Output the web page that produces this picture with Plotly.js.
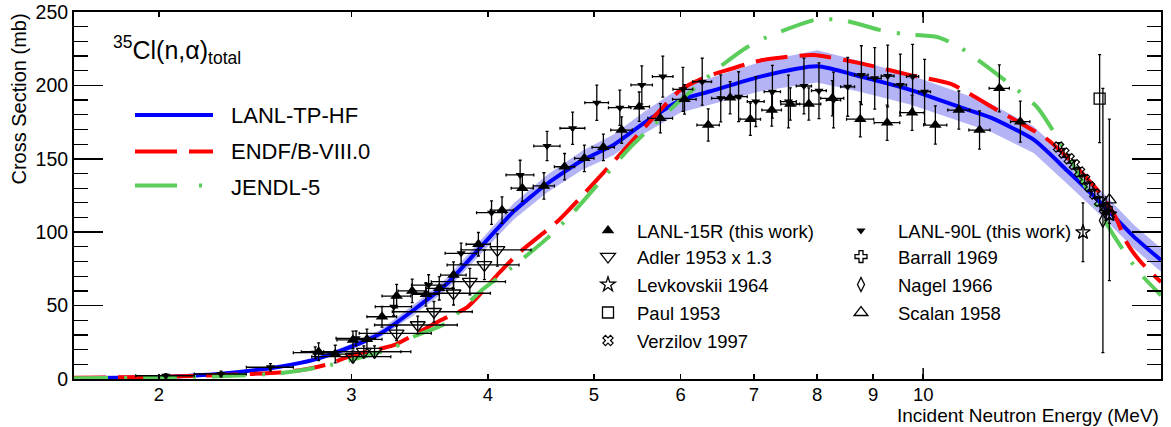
<!DOCTYPE html>
<html>
<head>
<meta charset="utf-8">
<script src="https://cdn.plot.ly/plotly-3.0.1.min.js"></script>
<style>html,body{margin:0;padding:0;background:#fff;}#chart{width:1171px;height:427px;}</style>
</head>
<body>
<div id="chart"></div>
<script>
// ---------- Evaluations ----------
const modelE      = [1.673,2.0,2.28,2.58,2.77,3.0,3.19,3.42,3.67,3.94,4.22,4.53,4.88,5.21,5.57,6.0,6.39,7.1,8.0,8.77,9.73,10.82,11.53,12.62,13.54,14.53,15.58,16.5];
const lanlTPHF    = [0.5,1.3,3.5,8.4,13,22,31,47,65,90,114,133,149,159.5,175,190,196,206,213,206,197,185,178,163,142,120,97,81];
const lanlUpper   = [0.6,1.5,3.9,9.2,14.2,24,33.5,50.5,69,95,119.5,139,155.5,166.5,182.5,198.5,205,216,224,216.5,207,194.5,187.5,172,151,128.5,105,89];
const lanlLower   = [0.4,1.1,3.1,7.6,11.8,20,28.5,43.5,61,85,108.5,127,142.5,152.5,167.5,181.5,187,196,202,195.5,187,175.5,168.5,154,133,111.5,89,73];

const endfE = [1.673,2.0,2.3,2.58,2.72,2.87,3.0,3.28,3.42,3.62,3.83,4.08,4.27,4.64,5.03,5.5,6.0,6.34,6.52,7.1,7.94,8.77,9.73,10.6,11.7,12.95,13.54,14.53,15.0,15.35,15.8,16.5];
const endfY = [0.8,1.5,2.8,4.5,6.5,10.5,16,23,30,40,49,71,86,108,135.6,167.4,197,206,209,217,220.7,215,207,201,183,164,151,126,110,93,80,66];

const jendlE = [1.673,2.0,2.3,2.58,2.87,3.27,3.42,3.66,3.94,4.19,4.53,4.78,5.4,6.0,6.1,6.52,6.9,7.2,8.0,8.5,9.1,9.6,10.3,10.8,12.0,12.7,13.3,14.9,15.7,16.5];
const jendlY = [0.5,1,2,3.9,9.5,21,28.8,38,60,75,95.8,113,158,190,194.6,212.7,226,233,245,244,238,235,233,226,201,185.5,163,99,74,57];

// ---------- Measurements ----------
const r15E  = [2.80,2.90,3.01,3.10,3.20,3.30,3.41,3.51,3.61,3.72,3.92,4.12,4.30,4.50,4.70,4.90,5.10,5.30,5.50,5.75,6.05,6.36,6.66,6.95,7.27,7.56,7.86,8.26,8.76,9.27,9.77,10.26,10.78,11.26,11.74,12.27];
const r15Y  = [18.6,17,26.6,27,42.4,56.5,60,57.7,61.8,70.8,91.8,115,130,131.5,144.6,150.3,157.8,169.6,185.5,177.6,190.5,173,191.6,177,183.2,187.3,187.3,191.2,177,174.6,181.4,173,183.2,169.6,198,175.3];
const r15dE = [0.1,0.1,0.1,0.1,0.1,0.1,0.1,0.1,0.1,0.1,0.1,0.1,0.1,0.1,0.1,0.1,0.12,0.12,0.12,0.15,0.15,0.15,0.15,0.15,0.15,0.15,0.2,0.2,0.25,0.25,0.25,0.25,0.25,0.25,0.25,0.25];
const r15dY = [6,6,6,7,7,8,8,8,8,9,8,9,9,9,9,9,9,9,10,10,10,11,11,11,11,11,11,12,12,12,12,13,13,13,16,14];

const l90E  = [2.03,2.28,2.53,2.78,3.03,3.28,3.53,3.78,4.03,4.28,4.53,4.78,5.03,5.28,5.53,5.78,6.03,6.28,6.53,6.78,7.03,7.28,7.53,7.78,8.03,8.28,8.53,8.78,9.03,9.28,9.53,9.78,10.03];
const l90Y  = [2.2,3.4,8,17.9,27.7,49.3,64,85.6,113.3,139,158.7,170.8,188.2,184.8,200.3,206,197.3,202.5,191.2,192.3,189,195.7,189,199.6,196.4,190,199,207,204.8,206.4,200.3,206,195.7];
const l90dE = [0.125,0.125,0.125,0.125,0.125,0.125,0.125,0.125,0.125,0.125,0.125,0.125,0.125,0.125,0.125,0.125,0.125,0.125,0.125,0.125,0.125,0.125,0.125,0.125,0.125,0.125,0.125,0.125,0.125,0.125,0.125,0.125,0.125];
const l90dY = [1.5,2,2.5,4,5,6,7,7,8,10,10,11,12,12,13,14,15,16,16,17,17,18,18,19,19,19,20,20,21,21,21,22,22];

const adlerE  = [3.01,3.08,3.15,3.30,3.45,3.57,3.72,3.85,3.97,4.08];
const adlerY  = [15.2,18.6,18.6,31.1,36.8,45.8,58.4,66.3,77.7,87.9];
const adlerdE = [0.25,0.25,0.25,0.25,0.3,0.3,0.3,0.3,0.3,0.3];
const adlerdY = [4,4,4,5,6,7,8,9,10,11];

const levkE = [14.0, 14.8]; const levkY = [100, 112]; const levkdY = [20, 6];
const paulE = [14.5]; const paulY = [191]; const pauldY = [30];
const verzE = [13.3,13.45,13.6,13.75,13.9,14.05,14.2,14.35,14.5,14.65,14.8];
const verzY = [158,154,150,146,141,136,131,126,121,116,112];
const verzdY = [3,3,3,3,3,3,3,3,3,3,3];
const barrE = [14.7]; const barrY = [116]; const barrdY = [8];
const nagelE = [14.6]; const nagelY = [108]; const nageldY = [90];
const scalE = [14.8]; const scalY = [122]; const scaldY = [55];

const xTickVals = [2,3,4,5,6,7,8,9,10];
const xTickText = ['2','3','4','5','6','7','8','9','10'];

// ---------- geometry helpers (plot area in pixels) ----------
const W = 1171, H = 427, L = 74, R = 1161, T = 12, B = 379;
const px = v => (v - L) / (R - L);
const py = v => (B - v) / (B - T);

const FONT = '"Liberation Sans", Arial, Helvetica, sans-serif';

const eb = (arr) => ({type:'data', array:arr, visible:true, color:'#000', thickness:1.3, width:1.5});

const traces = [
  {x: modelE.concat(modelE.slice().reverse()), y: lanlUpper.concat(lanlLower.slice().reverse()),
   type:'scatter', mode:'lines', fill:'toself', fillcolor:'rgba(110,110,235,0.52)', line:{width:0}, hoverinfo:'skip', showlegend:false},
  {x: modelE, y: lanlTPHF, type:'scatter', mode:'lines', line:{color:'#0000ff', width:4, shape:'spline', smoothing:0.6}, showlegend:false},
  {x: endfE, y: endfY, type:'scatter', mode:'lines', line:{color:'#ff0000', width:4, dash:'32px,12px', shape:'spline', smoothing:0.6}, showlegend:false},
  {x: jendlE, y: jendlY, type:'scatter', mode:'lines', line:{color:'#5acd5a', width:4, dash:'34px,16px,3px,16px', shape:'spline', smoothing:0.6}, showlegend:false},

  {x: adlerE, y: adlerY, name:'Adler 1953 x 1.3', legend:'legend3', type:'scatter', mode:'markers',
   marker:{symbol:'triangle-down-open', size:13, color:'#000', line:{width:1.3}}, error_x:eb(adlerdE), error_y:eb(adlerdY)},
  {x: l90E, y: l90Y, name:'LANL-90L (this work)', legend:'legend2', type:'scatter', mode:'markers',
   marker:{symbol:'triangle-down', size:8, color:'#000'}, error_x:eb(l90dE), error_y:eb(l90dY)},
  {x: r15E, y: r15Y, name:'LANL-15R (this work)', legend:'legend', type:'scatter', mode:'markers',
   marker:{symbol:'triangle-up', size:11, color:'#000'}, error_x:eb(r15dE), error_y:eb(r15dY)},
  {x: barrE, y: barrY, name:'Barrall 1969', legend:'legend4', type:'scatter', mode:'markers',
   marker:{symbol:'cross-open', size:10, color:'#000', line:{width:1.3}}, error_y:eb(barrdY)},
  {x: levkE, y: levkY, name:'Levkovskii 1964', legend:'legend5', type:'scatter', mode:'markers',
   marker:{symbol:'star-open', size:11, color:'#000', line:{width:1.3}}, error_y:eb(levkdY)},
  {x: nagelE, y: nagelY, name:'Nagel 1966', legend:'legend6', type:'scatter', mode:'markers',
   marker:{symbol:'diamond-tall-open', size:10, color:'#000', line:{width:1.3}}, error_y:eb(nageldY)},
  {x: paulE, y: paulY, name:'Paul 1953', legend:'legend7', type:'scatter', mode:'markers',
   marker:{symbol:'square-open', size:11, color:'#000', line:{width:1.3}}, error_y:eb(pauldY)},
  {x: scalE, y: scalY, name:'Scalan 1958', legend:'legend8', type:'scatter', mode:'markers',
   marker:{symbol:'triangle-up-open', size:12, color:'#000', line:{width:1.3}}, error_y:eb(scaldY)},
  {x: verzE, y: verzY, name:'Verzilov 1997', legend:'legend9', type:'scatter', mode:'markers',
   marker:{symbol:'x-open', size:9, color:'#000', line:{width:1.2}}, error_y:eb(verzdY)}
];

function leg(symX, rowY, iw) {
  const off = 5 + iw / 2;
  return {xref:'paper', yref:'paper', x: px(symX - off), y: py(rowY), xanchor:'left', yanchor:'middle',
          itemwidth: iw, font:{family:FONT, size:18.5, color:'#000'}, bgcolor:'rgba(0,0,0,0)', borderwidth:0,
          itemclick:false, itemdoubleclick:false};
}

const layout = {
  width: W, height: H,
  margin: {l: L, r: W - R, t: T, b: H - B, pad: 0, autoexpand: false},
  paper_bgcolor: '#fff', plot_bgcolor: '#fff',
  font: {family: FONT, size: 18, color: '#000'},
  showlegend: true,
  legend:  leg(608, 231, 48),
  legend3: leg(608, 257, 48),
  legend5: leg(608, 285, 48),
  legend7: leg(608, 313, 48),
  legend9: leg(608, 341, 48),
  legend2: leg(861, 231, 64),
  legend4: leg(861, 257, 64),
  legend6: leg(861, 285, 64),
  legend8: leg(861, 313, 64),
  xaxis: {
    type: 'log', range: [Math.log10(1.673), Math.log10(16.5)],
    tickvals: xTickVals, ticktext: xTickText,
    ticks: 'inside', ticklen: 5, tickwidth: 1.5, tickcolor: '#000',
    showline: true, linewidth: 2, linecolor: '#000', mirror: 'ticks',
    showgrid: false, zeroline: false, ticklabelstandoff: -2,
    tickfont: {family: FONT, size: 18.5, color: '#000'}
  },
  yaxis: {
    range: [0, 250], tickvals: [0,50,100,150,200,250],
    ticks: 'inside', ticklen: 29, tickwidth: 1.5, tickcolor: '#000',
    minor: {tickvals: [10,20,30,40,60,70,80,90,110,120,130,140,160,170,180,190,210,220,230,240], ticks: 'inside', ticklen: 14, tickwidth: 1.2, tickcolor: '#000', showgrid: false},
    showline: true, linewidth: 2, linecolor: '#000', mirror: 'ticks',
    showgrid: false, zeroline: false,
    tickfont: {family: FONT, size: 19.5, color: '#000'}
  },
  shapes: [
    {type:'line', xref:'x', yref:'paper', x0:10, x1:10, y0:0, y1:11/(B-T), line:{color:'#000', width:1.5}},
    {type:'line', xref:'x', yref:'paper', x0:10, x1:10, y0:1, y1:1-11/(B-T), line:{color:'#000', width:1.5}},
    {type:'line', xref:'paper', yref:'paper', x0:px(135), x1:px(213), y0:py(115), y1:py(115), line:{color:'#0000ff', width:4}},
    {type:'line', xref:'paper', yref:'paper', x0:px(135), x1:px(213), y0:py(151.5), y1:py(151.5), line:{color:'#ff0000', width:4, dash:'42px,12px'}},
    {type:'line', xref:'paper', yref:'paper', x0:px(135), x1:px(213), y0:py(185.5), y1:py(185.5), line:{color:'#5acd5a', width:4, dash:'42px,22px,3px,22px'}}
  ],
  annotations: [
    {xref:'paper', yref:'paper', x:px(111), y:py(50), xanchor:'left', yanchor:'middle', showarrow:false,
     text:'<sup>35</sup>Cl(n,α)<sub>total</sub>', font:{family:FONT, size:25, color:'#000'}},
    {xref:'paper', yref:'paper', x:px(229), y:py(115), xanchor:'left', yanchor:'middle', showarrow:false, text:'LANL-TP-HF', font:{family:FONT, size:22}},
    {xref:'paper', yref:'paper', x:px(229), y:py(151.5), xanchor:'left', yanchor:'middle', showarrow:false, text:'ENDF/B-VIII.0', font:{family:FONT, size:22}},
    {xref:'paper', yref:'paper', x:px(229), y:py(187), xanchor:'left', yanchor:'middle', showarrow:false, text:'JENDL-5', font:{family:FONT, size:22}},
    {xref:'paper', yref:'paper', x:px(1161), y:py(415), xanchor:'right', yanchor:'middle', showarrow:false,
     text:'Incident Neutron Energy (MeV)', font:{family:FONT, size:19}},
    {xref:'paper', yref:'paper', x:px(18), y:py(12), xanchor:'center', yanchor:'top', showarrow:false, textangle:-90,
     text:'Cross Section (mb)', font:{family:FONT, size:20}}
  ]
};

Plotly.newPlot('chart', traces, layout, {displayModeBar: false, staticPlot: true});
</script>
</body>
</html>
